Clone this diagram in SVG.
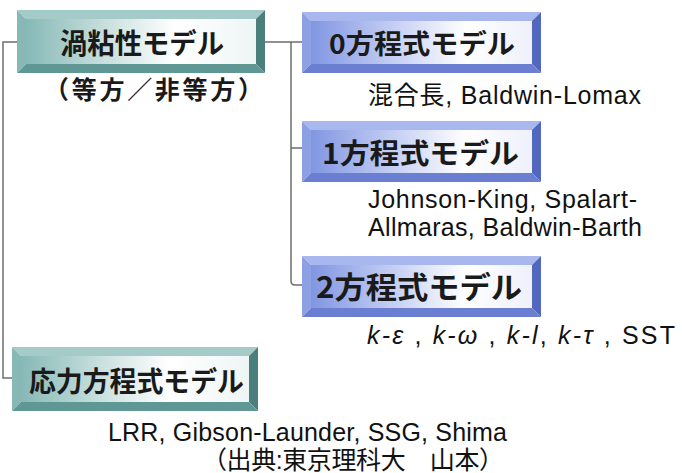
<svg xmlns="http://www.w3.org/2000/svg" width="682" height="473" viewBox="0 0 682 473">
<style>
.conn{fill:none;stroke:#6e6e6e;stroke-width:1.5}
.tt{fill:#a5cbc8}.tl{fill:#88b8b5}.tr{fill:#4a7f7d}.tb{fill:#5f9794}.tf{fill:url(#gT)}
.bt{fill:#a8b8ee}.bl{fill:#8da0e4}.br{fill:#5268bf}.bb{fill:#6a7fd2}.bf{fill:url(#gB)}
.title{font-family:"Noto Sans CJK JP","Noto Sans",sans-serif;font-weight:bold;fill:#1a1a1a}
.txt{font-family:"Liberation Sans","Noto Sans CJK JP",sans-serif;fill:#111;font-size:25px}
</style>
<defs>
<linearGradient id="gT" x1="0" y1="0" x2="1" y2="0">
<stop offset="0" stop-color="#86b9b6"/><stop offset="0.35" stop-color="#c9e0de"/><stop offset="0.65" stop-color="#ffffff"/><stop offset="1" stop-color="#eef5f5"/>
</linearGradient>
<linearGradient id="gB" x1="0" y1="0" x2="1" y2="0">
<stop offset="0" stop-color="#8196e2"/><stop offset="0.35" stop-color="#c0cbf2"/><stop offset="0.7" stop-color="#ffffff"/><stop offset="1" stop-color="#eef0fb"/>
</linearGradient>
</defs>
<g id="connectors">
<path class="conn" d="M17,42 H3 V378 H12"/>
<path class="conn" d="M265,42 H302 M291,42 V281 Q291,285 295,285 H302 M291,148 H302"/>
</g>
<g id="n-eddy">
<polygon class="tt" points="17,10 265,10 256,19 26,19"/>
<polygon class="tl" points="17,10 26,19 26,64 17,73"/>
<polygon class="tr" points="265,10 265,73 256,64 256,19"/>
<polygon class="tb" points="17,73 265,73 256,64 26,64"/>
<rect class="tf" x="26" y="19" width="230" height="45"/>
<text class="title" x="60" y="54" font-size="28" textLength="164" lengthAdjust="spacingAndGlyphs">渦粘性モデル</text>
<text class="title" x="44" y="99" font-size="25" textLength="219" lengthAdjust="spacing">（等方／非等方）</text>
</g>
<g id="n-zero">
<polygon class="bt" points="302,12 541,12 532,21 311,21"/>
<polygon class="bl" points="302,12 311,21 311,64 302,73"/>
<polygon class="br" points="541,12 541,73 532,64 532,21"/>
<polygon class="bb" points="302,73 541,73 532,64 311,64"/>
<rect class="bf" x="311" y="21" width="221" height="43"/>
<text class="title" x="329" y="54" font-size="27" textLength="186" lengthAdjust="spacingAndGlyphs">0方程式モデル</text>
<text class="txt" x="368" y="104" textLength="273" lengthAdjust="spacing">混合長, Baldwin-Lomax</text>
</g>
<g id="n-one">
<polygon class="bt" points="302,121 541,121 532,130 311,130"/>
<polygon class="bl" points="302,121 311,130 311,173 302,182"/>
<polygon class="br" points="541,121 541,182 532,173 532,130"/>
<polygon class="bb" points="302,182 541,182 532,173 311,173"/>
<rect class="bf" x="311" y="130" width="221" height="43"/>
<text class="title" x="322" y="164" font-size="28" textLength="197" lengthAdjust="spacingAndGlyphs">1方程式モデル</text>
<text class="txt" x="368" y="208" textLength="269" lengthAdjust="spacing">Johnson-King, Spalart-</text>
<text class="txt" x="368" y="236" textLength="274" lengthAdjust="spacing">Allmaras, Baldwin-Barth</text>
</g>
<g id="n-two">
<polygon class="bt" points="302,256 541,256 532,265 311,265"/>
<polygon class="bl" points="302,256 311,265 311,308 302,317"/>
<polygon class="br" points="541,256 541,317 532,308 532,265"/>
<polygon class="bb" points="302,317 541,317 532,308 311,308"/>
<rect class="bf" x="311" y="265" width="221" height="43"/>
<text class="title" x="316" y="298" font-size="30" textLength="206" lengthAdjust="spacingAndGlyphs">2方程式モデル</text>
<text class="txt" x="367" y="344" textLength="308" lengthAdjust="spacing"><tspan font-style="italic">k‐ε</tspan> , <tspan font-style="italic">k‐ω</tspan> , <tspan font-style="italic">k‐l</tspan>, <tspan font-style="italic">k‐τ</tspan> , SST</text>
</g>
<g id="n-stress">
<polygon class="tt" points="12,347 258,347 249,356 21,356"/>
<polygon class="tl" points="12,347 21,356 21,402 12,411"/>
<polygon class="tr" points="258,347 258,411 249,402 249,356"/>
<polygon class="tb" points="12,411 258,411 249,402 21,402"/>
<rect class="tf" x="21" y="356" width="228" height="46"/>
<text class="title" x="29" y="392" font-size="28" textLength="215" lengthAdjust="spacingAndGlyphs">応力方程式モデル</text>
<text class="txt" x="108" y="441" textLength="399" lengthAdjust="spacing">LRR, Gibson-Launder, SSG, Shima</text>
<text class="txt" x="202" y="469" font-size="24" textLength="302" lengthAdjust="spacing">（出典:東京理科大　山本）</text>
</g>
</svg>
